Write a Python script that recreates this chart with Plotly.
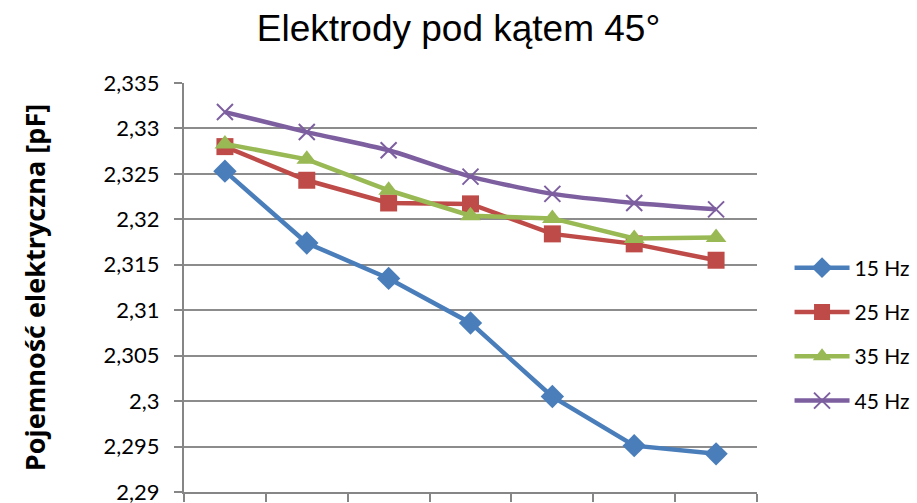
import plotly.graph_objects as go

categories = ["1", "2", "3", "4", "5", "6", "7"]
series_names = ["15 Hz", "25 Hz", "35 Hz", "45 Hz"]
v15 = [2.3253, 2.3174, 2.3135, 2.3086, 2.3005, 2.2951, 2.2942]
v25 = [2.3280, 2.3243, 2.3218, 2.3217, 2.3184, 2.3173, 2.3155]
v35 = [2.3283, 2.3266, 2.3232, 2.3204, 2.3201, 2.3179, 2.3180]
v45 = [2.3318, 2.3296, 2.3276, 2.3247, 2.3228, 2.3218, 2.3211]
y_ticks = [2.29, 2.295, 2.3, 2.305, 2.31, 2.315, 2.32, 2.325, 2.33, 2.335]

colors = ["#4A7EBB", "#BE4B48", "#98B954", "#7D5FA0"]
symbols = ["diamond", "square", "triangle-up", "x-thin"]
sizes = [18, 17, 18, 16]
shapes = ["linear", "linear", "linear", "spline"]

fig = go.Figure()
for name, vals, c, s, sz, sh in zip(series_names, [v15, v25, v35, v45], colors, symbols, sizes, shapes):
    marker = dict(symbol=s, size=sz, color=c)
    if s == "x-thin":
        marker["line"] = dict(color=c, width=2)
    fig.add_trace(go.Scatter(
        x=categories, y=vals, name=name, mode="lines+markers",
        line=dict(color=c, width=4.5, shape=sh, smoothing=0.6),
        marker=marker, legendgroup=name,
    ))

fig.update_layout(
    width=917, height=503,
    margin=dict(l=184, r=160, t=83, b=11, autoexpand=False),
    paper_bgcolor="white", plot_bgcolor="white",
    separators=", ",
    font=dict(family="Lato, Liberation Sans, sans-serif", color="#000000"),
    title=dict(text="Elektrody pod kątem 45°", x=0.5, xanchor="center", y=0.945, yanchor="middle",
               font=dict(family="Liberation Sans, Arial, sans-serif", size=37, color="#000000")),
    showlegend=True,
    legend=dict(xref="container", x=0.861, xanchor="left", y=0.385, yanchor="middle",
                font=dict(size=21, family="Lato, sans-serif"),
                tracegroupgap=14, itemwidth=55, bgcolor="rgba(0,0,0,0)"),
    xaxis=dict(type="category", showticklabels=False, showgrid=False, automargin=False,
               ticks="outside", ticklen=8, tickcolor="#868686", tickwidth=2,
               tickson="boundaries", showline=True, linecolor="#868686", linewidth=2,
               range=[-0.5, 6.5], zeroline=False),
    yaxis=dict(range=[2.29, 2.335], tickvals=y_ticks, showgrid=True, gridcolor="#8C8C8C", gridwidth=1.5,
               ticks="outside", ticklen=8, tickcolor="#868686", tickwidth=1.5, automargin=False,
               ticklabeloverflow="allow", ticklabelstandoff=10,
               showline=True, linecolor="#868686", linewidth=2, zeroline=False,
               tickfont=dict(size=22, family="Lato, sans-serif"),
               title=dict(text="Pojemność elektryczna [pF]", standoff=50,
                          font=dict(size=27, family="Open Sans, sans-serif", weight="bold"))),
)

fig.write_html("out.html")
